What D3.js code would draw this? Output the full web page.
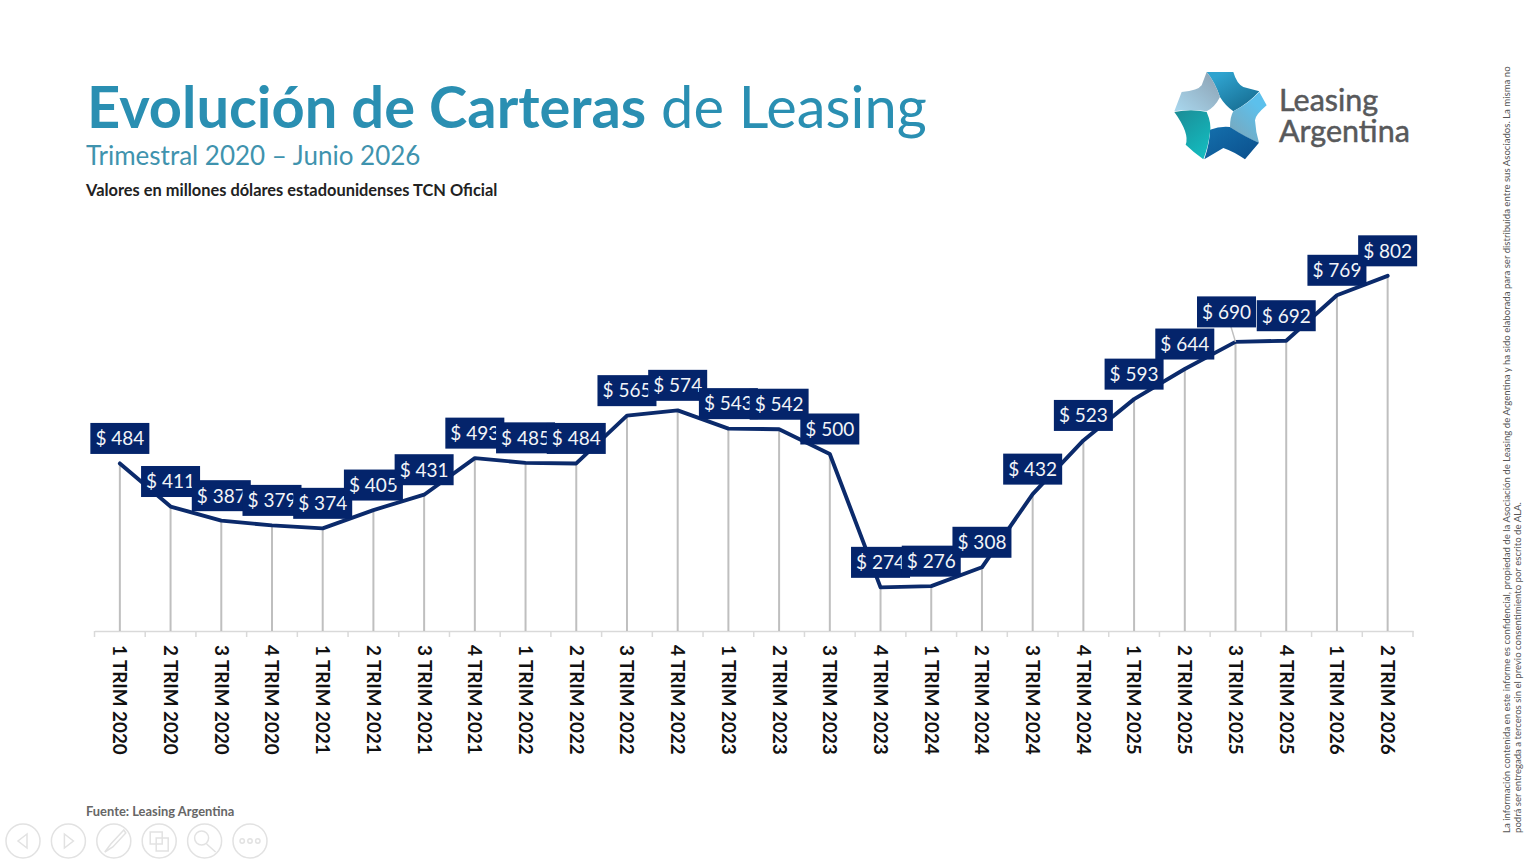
<!DOCTYPE html>
<html lang="es">
<head>
<meta charset="utf-8">
<title>Evolución de Carteras de Leasing</title>
<script src="https://cdn.jsdelivr.net/npm/d3@7"></script>
<style>
  html, body { margin: 0; padding: 0; background: #fff; overflow: hidden; }
  text { font-family: Lato, "Open Sans", sans-serif; }
</style>
</head>
<body>
<div id="chart"></div>
<script>
const categories = [
  "1 TRIM 2020", "2 TRIM 2020", "3 TRIM 2020", "4 TRIM 2020",
  "1 TRIM 2021", "2 TRIM 2021", "3 TRIM 2021", "4 TRIM 2021",
  "1 TRIM 2022", "2 TRIM 2022", "3 TRIM 2022", "4 TRIM 2022",
  "1 TRIM 2023", "2 TRIM 2023", "3 TRIM 2023", "4 TRIM 2023",
  "1 TRIM 2024", "2 TRIM 2024", "3 TRIM 2024", "4 TRIM 2024",
  "1 TRIM 2025", "2 TRIM 2025", "3 TRIM 2025", "4 TRIM 2025",
  "1 TRIM 2026", "2 TRIM 2026",
];
const values = [
  484, 411, 387, 379, 374, 405, 431, 493, 485, 484, 565, 574, 543,
  542, 500, 274, 276, 308, 432, 523, 593, 644, 690, 692, 769, 802,
];
const disclaimer = [
  "La información contenida en este informe es confidencial, propiedad de la Asociación de Leasing de Argentina y ha sido elaborada para ser distribuida entre sus Asociados. La misma no",
  "podrá ser entregada a terceros sin el previo consentimiento por escrito de ALA.",
];

const navy = "#04246b";
const baseY = 631;

const svg = d3.select("#chart").append("svg")
  .attr("width", 1536)
  .attr("height", 864);

const x = d3.scaleBand().domain(categories).range([94.5, 1413]);
const y = d3.scaleLinear().domain([200, 800]).range([baseY, 277]);
const cx = (d) => x(d) + x.bandwidth() / 2;

// Headings
const title = svg.append("text")
  .attr("x", 87)
  .attr("y", 128)
  .style("font-size", "57.8px")
  .style("fill", "#2a8fb2");
title.append("tspan").style("font-weight", 700).text("Evolución de Carteras");
title.append("tspan").style("font-weight", 400).text(" de Leasing");

svg.append("text")
  .attr("x", 86)
  .attr("y", 165)
  .style("font-size", "26px")
  .style("fill", "#3f93ae")
  .text("Trimestral 2020 – Junio 2026");

svg.append("text")
  .attr("x", 86)
  .attr("y", 196)
  .style("font-size", "16.4px")
  .style("font-weight", 700)
  .style("fill", "#222")
  .text("Valores en millones dólares estadounidenses TCN Oficial");

svg.append("text")
  .attr("x", 86)
  .attr("y", 816)
  .style("font-size", "12.9px")
  .style("font-weight", 700)
  .style("fill", "#666")
  .text("Fuente: Leasing Argentina");

// Side note
disclaimer.forEach((line, i) => {
  svg.append("text")
    .attr("transform", `translate(${1510 + i * 11},833) rotate(-90)`)
    .style("font-size", "9.6px")
    .style("fill", "#555")
    .text(line);
});

// Logo
const defs = svg.append("defs");
const blades = [
  {
    id: "bladeTop", from: "#2fa3cf", to: "#14688c", dir: [0.2, 0.1, 0.9, 1],
    d: "M125,30 L205,30 Q215,65 235,75 L283,88 Q250,125 205,148 Q180,130 165,105 Q150,60 125,30Z",
  },
  {
    id: "bladeRight", from: "#5cc0ec", to: "#78a9bf", dir: [0.8, 0.3, 0.3, 1],
    d: "M283,90 L305,130 Q270,160 270,175 Q272,210 282,242 Q235,225 195,195 Q195,165 205,148 Q250,125 283,90Z",
  },
  {
    id: "bladeBottom", from: "#1470ad", to: "#0b4f8c", dir: [0, 0, 1, 1],
    d: "M282,242 L240,292 Q205,268 175,258 L118,292 Q135,240 135,203 Q165,192 195,195 Q240,225 282,242Z",
  },
  {
    id: "bladeLeft", from: "#1b8c96", to: "#14b9bd", dir: [0, 0, 0.6, 1],
    d: "M28,150 Q80,140 125,150 Q140,185 135,210 Q130,255 115,292 Q85,270 62,248 Q75,215 28,150Z",
  },
  {
    id: "bladeUpper", from: "#a9d8ef", to: "#8b9fb0", dir: [0, 1, 1, 0],
    d: "M125,30 Q150,60 165,105 Q150,135 125,148 Q75,140 28,148 L50,90 Q100,85 110,70Z",
  },
];
blades.forEach((b) => {
  const grad = defs.append("linearGradient")
    .attr("id", b.id)
    .attr("x1", b.dir[0]).attr("y1", b.dir[1])
    .attr("x2", b.dir[2]).attr("y2", b.dir[3]);
  grad.append("stop").attr("offset", 0).attr("stop-color", b.from);
  grad.append("stop").attr("offset", 1).attr("stop-color", b.to);
});
svg.append("g")
  .attr("transform", "translate(1165,62) scale(0.3333)")
  .selectAll("path")
  .data(blades)
  .join("path")
  .attr("d", (d) => d.d)
  .attr("fill", (d) => `url(#${d.id})`);

["Leasing", "Argentina"].forEach((word, i) => {
  svg.append("text")
    .attr("x", 1279)
    .attr("y", 111 + i * 31)
    .style("font-size", "30.5px")
    .style("fill", "#58595b")
    .style("stroke", "#58595b")
    .style("stroke-width", 0.5)
    .text(word);
});

// Axis
const axis = svg.append("g")
  .attr("transform", `translate(0,${baseY})`)
  .call(d3.axisBottom(x).tickSize(0).tickPadding(0));
axis.select(".domain").attr("stroke", "#d9d9d9").attr("stroke-width", 1.5);
axis.selectAll(".tick text")
  .attr("transform", "translate(0,14) rotate(90)")
  .attr("x", 0)
  .attr("y", 0)
  .attr("dy", "0.35em")
  .attr("text-anchor", "start")
  .style("font-family", "Lato, sans-serif")
  .style("font-size", "18.8px")
  .style("font-weight", 700)
  .style("fill", "#111");

svg.append("g")
  .selectAll("line")
  .data(d3.range(categories.length + 1))
  .join("line")
  .attr("x1", (i) => x.range()[0] + i * x.step())
  .attr("x2", (i) => x.range()[0] + i * x.step())
  .attr("y1", baseY)
  .attr("y2", baseY + 6)
  .attr("stroke", "#d9d9d9")
  .attr("stroke-width", 1.5);

// Drop lines
svg.append("g")
  .selectAll("line")
  .data(categories)
  .join("line")
  .attr("x1", cx)
  .attr("x2", cx)
  .attr("y1", (d, i) => y(values[i]))
  .attr("y2", baseY)
  .attr("stroke", "#bfbfbf")
  .attr("stroke-width", 2);

// Series line
const line = d3.line()
  .x((d, i) => cx(categories[i]))
  .y((d) => y(d));

svg.append("path")
  .datum(values)
  .attr("d", line)
  .attr("fill", "none")
  .attr("stroke", "#0b2a6b")
  .attr("stroke-width", 3.9)
  .attr("stroke-linejoin", "round")
  .attr("stroke-linecap", "round");

// Labels sit above the point; each one overlaps the previous one
const labelW = 59;
const labelH = 31;
const labelAbove = 25;
const moved = { "3 TRIM 2025": [-9, -5] };

const labelX = (d) => cx(d) + (moved[d] ? moved[d][0] : 0);
const labelY = (d, i) => y(values[i]) - labelAbove + (moved[d] ? moved[d][1] : 0);

svg.append("g")
  .selectAll("line")
  .data(categories)
  .join("line")
  .filter((d) => moved[d])
  .attr("x1", labelX)
  .attr("y1", (d) => labelY(d, categories.indexOf(d)))
  .attr("x2", cx)
  .attr("y2", (d) => y(values[categories.indexOf(d)]))
  .attr("stroke", "#bfbfbf")
  .attr("stroke-width", 1.5);

const labels = svg.append("g")
  .selectAll("g")
  .data(categories)
  .join("g")
  .attr("transform", (d, i) => `translate(${labelX(d)},${labelY(d, i)})`);

labels.append("rect")
  .attr("x", -labelW / 2)
  .attr("y", -labelH / 2)
  .attr("width", labelW)
  .attr("height", labelH)
  .attr("fill", navy);

labels.append("text")
  .attr("text-anchor", "middle")
  .attr("dy", "0.36em")
  .style("font-size", "19px")
  .style("fill", "#f2f4f8")
  .text((d, i) => `$ ${values[i]}`);

// Presentation toolbar
const toolbar = svg.append("g")
  .attr("fill", "none")
  .attr("stroke", "#e2e2e2")
  .attr("stroke-width", 1.5);
const icons = [
  "M4,-7 L-5,0 L4,7Z",
  "M-4,-7 L5,0 L-4,7Z",
  "M10,-11 L-3,3 L-9,11 L-1,6 L12,-8Z",
  "M-9,-9 H3 V-3 H9 V10 H-3 V3 H-9Z M-3,-3 H3 V3 H-3Z",
  "M-3,-3 m-7,0 a7,7 0 1,0 14,0 a7,7 0 1,0 -14,0 M2,3 L11,11",
  "M-10,0 a2.2,2.2 0 1,0 4.4,0 a2.2,2.2 0 1,0 -4.4,0 M-2.2,0 a2.2,2.2 0 1,0 4.4,0 a2.2,2.2 0 1,0 -4.4,0 M5.6,0 a2.2,2.2 0 1,0 4.4,0 a2.2,2.2 0 1,0 -4.4,0",
];
icons.forEach((icon, i) => {
  const g = toolbar.append("g").attr("transform", `translate(${23 + i * 45.4},841)`);
  g.append("circle").attr("r", 17);
  g.append("path").attr("d", icon);
});
</script>
</body>
</html>
